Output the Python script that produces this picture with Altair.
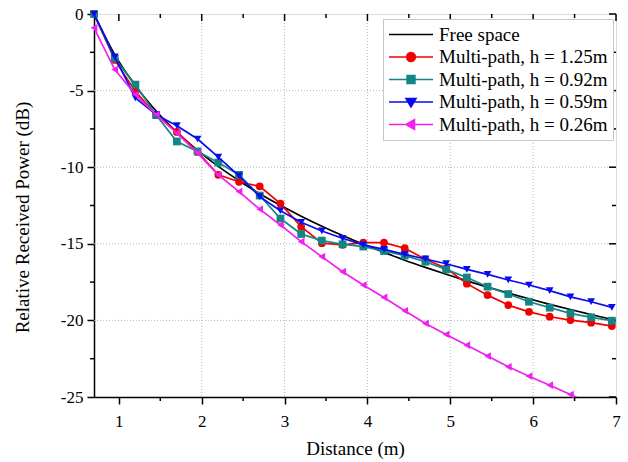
import altair as alt
import pandas as pd

# ---------------- data ----------------
distance = [0.7, 0.95, 1.2, 1.45, 1.7, 1.95, 2.2, 2.45, 2.7, 2.95, 3.2, 3.45, 3.7,
            3.95, 4.2, 4.45, 4.7, 4.95, 5.2, 5.45, 5.7, 5.95, 6.2, 6.45, 6.7, 6.95]

free_distance = distance + [7.0]
free_space = [0.0, -2.65, -4.68, -6.33, -7.71, -8.90, -9.95, -10.88, -11.73, -12.49,
              -13.20, -13.85, -14.46, -15.03, -15.56, -16.07, -16.54, -16.99, -17.42,
              -17.83, -18.22, -18.59, -18.95, -19.29, -19.62, -19.94, -20.0]

h125 = [0.0, -3.0, -5.05, -6.6, -7.7, -9.0, -10.5, -10.95, -11.25, -12.38, -13.88,
        -14.96, -15.07, -14.92, -14.92, -15.29, -16.01, -16.6, -17.6, -18.35, -19.0,
        -19.44, -19.76, -19.98, -20.15, -20.37]

h092 = [0.0, -2.9, -4.61, -6.6, -8.32, -8.97, -9.7, -10.5, -11.85, -13.35, -14.36,
        -14.79, -15.03, -15.18, -15.47, -15.77, -16.17, -16.67, -17.2, -17.8, -18.28,
        -18.78, -19.17, -19.54, -19.8, -20.02]

h059 = [0.0, -2.8, -5.48, -6.57, -7.29, -8.16, -9.34, -10.56, -11.92, -12.84, -13.6,
        -14.16, -14.64, -15.07, -15.36, -15.69, -15.99, -16.3, -16.67, -17.0, -17.36,
        -17.69, -18.06, -18.46, -18.78, -19.15]

h026 = [-0.9, -3.63, -5.26, -6.57, -7.77, -9.08, -10.5, -11.59, -12.74, -13.77, -14.86,
        -15.84, -16.82, -17.69, -18.5, -19.37, -20.2, -20.92, -21.62, -22.33, -23.03,
        -23.64, -24.23, -24.84, -25.45, -26.05]

series_names = ["Free space", "Multi-path, h = 1.25m", "Multi-path, h = 0.92m",
                "Multi-path, h = 0.59m", "Multi-path, h = 0.26m"]
series_colors = ["#000000", "#f00000", "#138585", "#0a0af0", "#f020f0"]
series_shapes = [None, "circle", "square", "triangle-down", "triangle-left"]
legend_paths = [
    "M-1,0H1",
    "M-1,0H1M0.2,0A0.2,0.2,0,1,1,-0.2,0A0.2,0.2,0,1,1,0.2,0Z",
    "M-1,0H1M-0.18,-0.18H0.18V0.18H-0.18Z",
    "M-1,0H1M-0.23,-0.16L0.23,-0.16L0,0.23Z",
    "M-1,0H1M0.16,-0.23L0.16,0.23L-0.23,0Z",
]

x_major = [1, 2, 3, 4, 5, 6, 7]
x_minor = [1.5, 2.5, 3.5, 4.5, 5.5, 6.5]
y_major = [0, -5, -10, -15, -20, -25]
y_minor = [-2.5, -7.5, -12.5, -17.5, -22.5]
x_grid = [2, 3, 4, 5, 6]
y_grid = [-5, -10, -15, -20]

# ---------------- tables ----------------
rows = []
for d, p in zip(free_distance, free_space):
    rows.append({"distance": d, "power": p, "series": series_names[0]})
for name, vals in zip(series_names[1:], [h125, h092, h059, h026]):
    for d, p in zip(distance, vals):
        rows.append({"distance": d, "power": p, "series": name})
df = pd.DataFrame(rows)

W, H = 522, 383
FONT = "Liberation Serif"

xscale = alt.Scale(domain=[0.7, 7], nice=False, zero=False)
yscale = alt.Scale(domain=[-25, 0], nice=False, zero=False)

x_axis = alt.Axis(values=x_major, title="Distance (m)", grid=False, tickSize=7,
                  tickWidth=1.5, tickColor="black", domainColor="black", domainWidth=1.5,
                  labelFont=FONT, labelFontSize=17, labelColor="black", labelPadding=9,
                  labelFlush=False, labelExpr="toString(datum.value)",
                  titleFont=FONT, titleFontSize=19, titleFontWeight="normal",
                  titleColor="black", titlePadding=10)
y_axis = alt.Axis(values=y_major, title="Relative Received Power (dB)", grid=False,
                  tickSize=7, tickWidth=1.5, tickColor="black", domainColor="black",
                  domainWidth=1.5, labelFont=FONT, labelFontSize=17, labelColor="black",
                  labelPadding=4, labelExpr="toString(datum.value)",
                  titleFont=FONT, titleFontSize=19, titleFontWeight="normal",
                  titleColor="black", titlePadding=28, titleY=203)


def X(field):
    return alt.X(field, scale=xscale, axis=x_axis)


def Y(field):
    return alt.Y(field, scale=yscale, axis=y_axis)


layers = []

# grid lines
gx = alt.Chart(pd.DataFrame({"v": x_grid})).mark_rule(
    color="#b8b8b8", strokeDash=[1, 2], strokeWidth=1).encode(
    x=X("v:Q"), y=alt.value(0), y2=alt.value(H))
gy = alt.Chart(pd.DataFrame({"v": y_grid})).mark_rule(
    color="#b8b8b8", strokeDash=[1, 2], strokeWidth=1).encode(
    y=Y("v:Q"), x=alt.value(0), x2=alt.value(W))
layers += [gx, gy]


# minor / mirrored ticks
def xticks(vals, y0, y1):
    return alt.Chart(pd.DataFrame({"v": vals})).mark_rule(
        color="black", strokeWidth=1.5).encode(
        x=X("v:Q"), y=alt.value(y0), y2=alt.value(y1))


def yticks(vals, x0, x1):
    return alt.Chart(pd.DataFrame({"v": vals})).mark_rule(
        color="black", strokeWidth=1.5).encode(
        y=Y("v:Q"), x=alt.value(x0), x2=alt.value(x1))


layers += [
    xticks(x_minor, H, H + 4),
    xticks(x_major, 0, 7),
    xticks(x_minor, 0, 4),
    yticks(y_minor, 0, -4),
    yticks(y_major, W, W - 7),
    yticks(y_minor, W, W - 4),
]

# series
for name, col, shp in zip(series_names, series_colors, series_shapes):
    base = alt.Chart(df).transform_filter(alt.datum.series == name)
    line = base.mark_line(color=col, strokeWidth=1.7, clip=True,
                          interpolate="monotone" if shp is None else "linear").encode(
        x=X("distance:Q"), y=Y("power:Q"))
    layers.append(line)
    if shp is not None:
        pts = base.transform_filter(alt.datum.power >= -25).mark_point(
            shape=shp, filled=True, size=60, color=col, opacity=1).encode(
            x=X("distance:Q"), y=Y("power:Q"))
        layers.append(pts)

# legend (no visible marks, only the legend driven by explicit scale domains)
leg = alt.Legend(title=None, orient="none", legendX=289, legendY=5, padding=5,
                 clipHeight=21, rowPadding=1.5, symbolSize=1936, symbolStrokeWidth=1.5,
                 symbolOpacity=1, labelFont=FONT, labelFontSize=19, labelColor="black",
                 labelOffset=5, labelLimit=400, strokeColor="#c8c8c8", fillColor="white")
legend_layer = alt.Chart(df).transform_filter("false").mark_point(
    filled=True, strokeWidth=1.5).encode(
    x=X("distance:Q"), y=Y("power:Q"),
    fill=alt.Fill("series:N", scale=alt.Scale(domain=series_names, range=series_colors), legend=leg),
    stroke=alt.Stroke("series:N", scale=alt.Scale(domain=series_names, range=series_colors), legend=leg),
    shape=alt.Shape("series:N", scale=alt.Scale(domain=series_names, range=legend_paths), legend=leg),
)
layers.append(legend_layer)

chart = alt.layer(*layers).properties(
    width=W, height=H,
    autosize=alt.AutoSizeParams(type="none"),
    padding={"left": 94, "top": 14, "right": 12, "bottom": 65},
).configure_view(stroke="black", strokeWidth=1.5).configure(background="white")

chart.save("out.html", embed_options={"renderer": "svg", "actions": False})
